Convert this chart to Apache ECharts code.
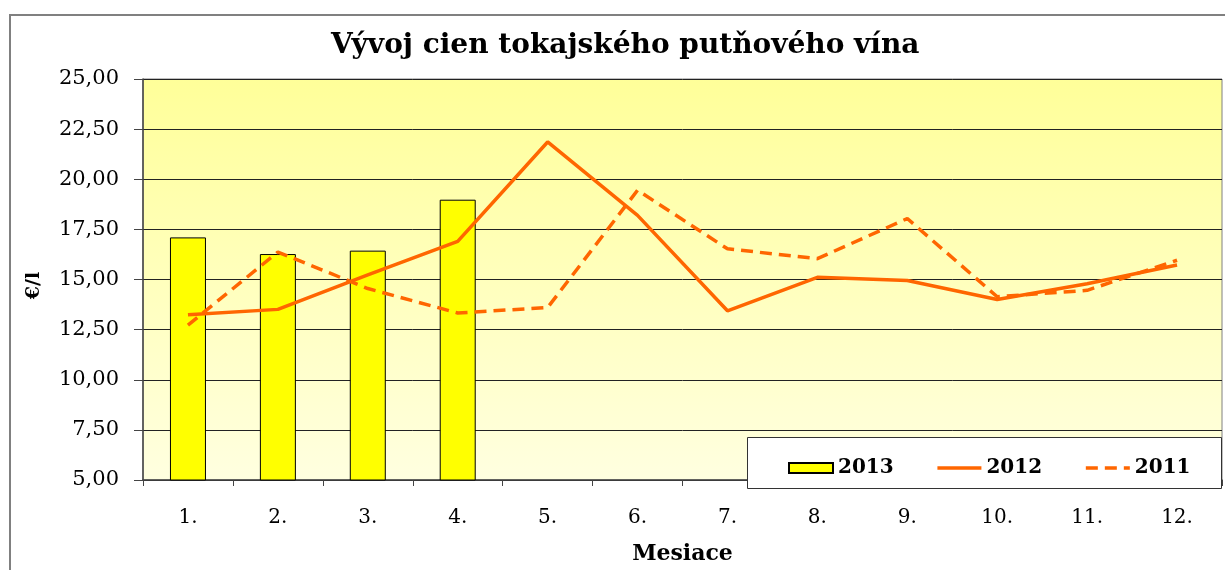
<!DOCTYPE html>
<html>
<head>
<meta charset="utf-8">
<script src="https://cdn.jsdelivr.net/npm/echarts@6/dist/echarts.min.js"></script>
<style>
  html, body { margin: 0; padding: 0; background: #fff; }
  #chart { width: 1225px; height: 570px; }
</style>
</head>
<body>
<div id="chart"></div>
<script>
// mesiace a ceny (€/l)
var months = ['1.', '2.', '3.', '4.', '5.', '6.', '7.', '8.', '9.', '10.', '11.', '12.'];
var data2013 = [17.10, 16.27, 16.44, 18.98, null, null, null, null, null, null, null, null];
var data2012 = [13.24, 13.51, 15.23, 16.90, 21.86, 18.20, 13.44, 15.11, 14.95, 14.00, 14.79, 15.72];
var data2011 = [12.72, 16.37, 14.55, 13.33, 13.60, 19.45, 16.53, 16.04, 18.04, 14.14, 14.46, 15.96];
var yMin = 5, yMax = 25, yStep = 2.5;

var serif = '"DejaVu Serif", "Liberation Serif", serif';
var orange = '#FF6600';

var myChart = echarts.init(document.getElementById('chart'));
var option = {
    animation: false,
    textStyle: { fontFamily: serif },
    title: {
        text: 'Vývoj cien tokajského putňového vína',
        left: 326,
        top: 27,
        textStyle: { fontFamily: serif, fontSize: 28, fontWeight: 'bold', color: '#000' }
    },
    graphic: [
        // ramček grafu
        {
            type: 'rect', left: 9, top: 14, z: -1,
            shape: { width: 1240, height: 580 },
            style: { fill: '#fff', stroke: '#808080', lineWidth: 2 }
        },
        // rámik legendy
        {
            type: 'rect', left: 747, top: 437, z: 5,
            shape: { width: 474, height: 51 },
            style: { fill: '#fff', stroke: '#333', lineWidth: 1 }
        }
    ],
    legend: {
        left: 783,
        top: 453,
        z: 10,
        itemWidth: 44,
        itemHeight: 10,
        itemGap: 42,
        textStyle: { fontFamily: serif, fontSize: 20, fontWeight: 'bold', color: '#000' },
        data: [
            { name: '2013', icon: 'rect' },
            { name: '2012', itemStyle: { opacity: 0 }, lineStyle: { width: 3.5 } },
            { name: '2011', itemStyle: { opacity: 0 }, lineStyle: { width: 3.5 } }
        ]
    },
    grid: {
        left: 143,
        top: 79,
        right: 3,
        bottom: 81,
        show: true,
        borderWidth: 1,
        borderColor: '#808080',
        backgroundColor: {
            type: 'linear', x: 0, y: 0, x2: 0, y2: 1,
            colorStops: [
                { offset: 0, color: '#FFFF99' },
                { offset: 1, color: '#FFFFE0' }
            ]
        }
    },
    xAxis: {
        type: 'category',
        data: months,
        boundaryGap: true,
        name: 'Mesiace',
        nameLocation: 'middle',
        nameGap: 63,
        nameTextStyle: { fontFamily: serif, fontSize: 22, fontWeight: 'bold', color: '#000' },
        axisLine: { lineStyle: { color: '#444', width: 1.5 } },
        axisTick: { show: true, length: 6, lineStyle: { color: '#444' } },
        axisLabel: { fontFamily: serif, fontSize: 20, color: '#000', margin: 28 }
    },
    yAxis: {
        type: 'value',
        min: yMin,
        max: yMax,
        interval: yStep,
        name: '€/l',
        nameLocation: 'middle',
        nameGap: 99,
        nameTextStyle: { fontFamily: serif, fontSize: 19, fontWeight: 'bold', color: '#000', padding: [0, 12, 0, 0] },
        axisLine: { show: true, lineStyle: { color: '#444', width: 1.5 } },
        axisTick: { show: true, length: 9, lineStyle: { color: '#444' } },
        axisLabel: {
            fontFamily: serif, fontSize: 21, color: '#000', margin: 24,
            formatter: function (v) { return v.toFixed(2).replace('.', ','); }
        },
        splitLine: { lineStyle: { color: '#222', width: 1 } }
    },
    series: [
        {
            name: '2013',
            type: 'bar',
            data: data2013,
            barWidth: 36,
            itemStyle: { color: '#FFFF00', borderColor: '#000', borderWidth: 1 }
        },
        {
            name: '2012',
            type: 'line',
            data: data2012,
            symbol: 'none',
            lineStyle: { color: orange, width: 3.5 },
            itemStyle: { color: orange }
        },
        {
            name: '2011',
            type: 'line',
            data: data2011,
            symbol: 'none',
            lineStyle: { color: orange, width: 3.5, type: [12, 7] },
            itemStyle: { color: orange }
        }
    ]
};
myChart.setOption(option);
</script>
</body>
</html>
